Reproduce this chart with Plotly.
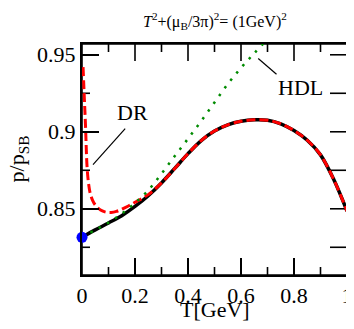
import plotly.graph_objects as go

# full result (black solid)
t_full = [0.0, 0.05, 0.1, 0.15, 0.2, 0.25, 0.3, 0.35, 0.4, 0.45, 0.5, 0.55,
          0.6, 0.65, 0.7, 0.75, 0.8, 0.85, 0.9, 0.95, 1.0]
p_full = [0.8315, 0.8363, 0.8408, 0.8455, 0.8515, 0.8585, 0.8668, 0.8762, 0.8858,
          0.8943, 0.9005, 0.9045, 0.9068, 0.9078, 0.9075, 0.9052, 0.9008, 0.8945,
          0.8850, 0.8690, 0.8485]

# DR (red dashed)
t_dr = [0.004, 0.008, 0.013, 0.019, 0.025, 0.031, 0.04, 0.05, 0.07, 0.09, 0.11,
        0.13, 0.15, 0.175, 0.2, 0.25, 0.3, 0.35, 0.4, 0.45, 0.5, 0.55, 0.6, 0.65,
        0.7, 0.75, 0.8, 0.85, 0.9, 0.95, 1.0]
p_dr = [0.942, 0.925, 0.905, 0.8775, 0.866, 0.8600, 0.8555, 0.8525, 0.8492, 0.8478,
        0.8476, 0.8483, 0.8497, 0.8518, 0.8542, 0.8592, 0.8668, 0.8762, 0.8858,
        0.8943, 0.9005, 0.9045, 0.9068, 0.9078, 0.9075, 0.9052, 0.9008, 0.8945,
        0.8850, 0.8690, 0.8485]

# HDL (green dotted)
t_hdl = [0.0, 0.05, 0.1, 0.15, 0.2, 0.25, 0.3, 0.35, 0.4, 0.45, 0.5, 0.55, 0.6,
         0.65, 0.7]
p_hdl = [0.8315, 0.8363, 0.8410, 0.8468, 0.8538, 0.8620, 0.8728, 0.8842, 0.8955,
         0.9070, 0.9190, 0.9310, 0.9415, 0.9510, 0.9600]

# mu_B = 0 point
t_pt = [0.0]
p_pt = [0.8315]

x_range = [0, 1]
y_range = [0.807, 0.957]
x_ticks = [0, 0.2, 0.4, 0.6, 0.8, 1.0]
x_ticktext = ["0", "0.2", "0.4", "0.6", "0.8", "1"]
x_minor = [0.1, 0.3, 0.5, 0.7, 0.9]
y_ticks = [0.85, 0.9, 0.95]
y_ticktext = ["0.85", "0.9", "0.95"]
y_minor = [0.825, 0.875, 0.925]

FONT = "Liberation Serif"

# tick lengths in data units (plot area is 265 x 231 px)
XL, XS = 17 / 265, 8 / 265
YL, YS = 17 / 231 * 0.15, 8 / 231 * 0.15


def frame_and_ticks():
    xs, ys = [], []
    y0, y1 = y_range
    for v, ln in [(v, YL) for v in x_ticks[1:-1]] + [(v, YS) for v in x_minor]:
        xs += [v, v, None, v, v, None]
        ys += [y0, y0 + ln, None, y1, y1 - ln, None]
    for v, ln in [(v, XL) for v in y_ticks] + [(v, XS) for v in y_minor]:
        xs += [0, ln, None]
        ys += [v, v, None]
    for v in sorted(y_ticks + y_minor):
        xs += [1, 1 - XL, None]
        ys += [v, v, None]
    xs += [0, 1, 1, 0, 0]
    ys += [y0, y0, y1, y1, y0]
    return xs, ys


fig = go.Figure()
fx, fy = frame_and_ticks()
fig.add_trace(go.Scatter(x=fx, y=fy, mode="lines", cliponaxis=False, hoverinfo="skip",
                         line=dict(color="black", width=1.6)))
fig.add_trace(go.Scatter(x=t_full, y=p_full, mode="lines",
                         line=dict(color="black", width=3.5, shape="spline")))
fig.add_trace(go.Scatter(x=t_dr, y=p_dr, mode="lines",
                         line=dict(color="#ff0000", width=3, dash="9px,4px", shape="spline")))
fig.add_trace(go.Scatter(x=t_hdl, y=p_hdl, mode="lines",
                         line=dict(color="#008b00", width=2.5, dash="2.5px,7px", shape="spline")))
fig.add_trace(go.Scatter(x=t_pt, y=p_pt, mode="markers", cliponaxis=False,
                         marker=dict(color="#0000ff", size=11)))

axis_common = dict(showline=True, linecolor="#000000", linewidth=2, mirror=True,
                   ticks="inside", tickcolor="#000000", tickwidth=1.5, ticklen=17,
                   showgrid=False, zeroline=False, automargin=False,
                   ticklabeloverflow="allow",
                   tickfont=dict(family=FONT, size=22, color="black"))

# the page adds an 8px body margin all round, so the figure is smaller
# than the window and shifted back by 8px to avoid scrollbars
fig.update_layout(
    width=346, height=313,
    margin=dict(l=74, r=7, t=36, b=46),
    paper_bgcolor="white", plot_bgcolor="white",
    showlegend=False,
    xaxis=dict(range=x_range, tickmode="array", tickvals=x_ticks, ticktext=x_ticktext,
               **axis_common),
    yaxis=dict(range=y_range, tickmode="array", tickvals=y_ticks, ticktext=y_ticktext,
               **axis_common),
)

txt = dict(family=FONT, size=22, color="black")
fig.add_annotation(text="<i>T</i><sup>2</sup>+(μ<sub>B</sub>/3π)<sup>2</sup>= (1GeV)<sup>2</sup>",
                   xref="paper", yref="paper", x=0.502, y=1.10, showarrow=False,
                   xanchor="center", yanchor="middle",
                   font=dict(family=FONT, size=16, color="black"))
fig.add_annotation(text="T[GeV]", xref="paper", yref="paper", x=0.502, y=-0.1515,
                   xanchor="center", yanchor="middle", showarrow=False, font=txt)
fig.add_annotation(text="p/p<sub>SB</sub>", xref="paper", yref="paper", x=-0.24, y=0.502,
                   xanchor="center", yanchor="middle", textangle=-90, showarrow=False, font=txt)

fig.add_annotation(text="DR", x=0.189, y=0.9126, showarrow=False,
                   xanchor="center", yanchor="middle", font=txt)
fig.add_annotation(text="HDL", x=0.823, y=0.9289, showarrow=False,
                   xanchor="center", yanchor="middle", font=txt)
fig.add_shape(type="line", x0=0.163, y0=0.902, x1=0.0415, y1=0.8787,
              line=dict(color="black", width=1.2))
fig.add_shape(type="line", x0=0.665, y0=0.9476, x1=0.734, y1=0.9374,
              line=dict(color="black", width=1.2))

fig.write_html("out.html")
